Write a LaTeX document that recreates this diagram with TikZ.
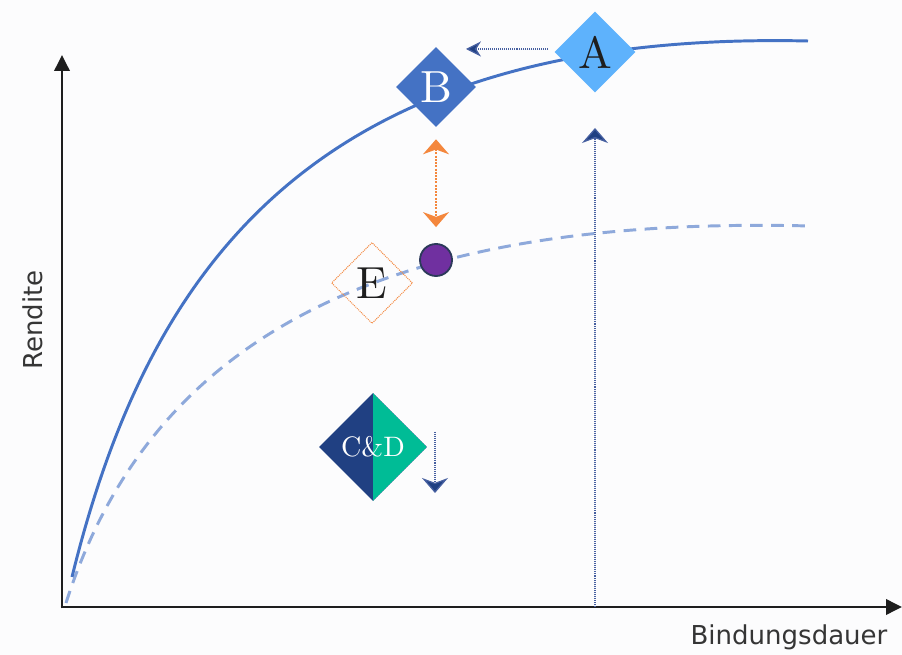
\documentclass[tikz,border=0pt]{standalone}
\usepackage{fontspec}
\newfontfamily\axisfont{DejaVu Sans}
\newfontfamily\gemfont{lmroman10-regular.otf}
\usepackage{xcolor}
\definecolor{rdpaper}{RGB}{252,252,253}
\definecolor{rdaxis}{RGB}{30,30,30}
\definecolor{rdblue}{RGB}{68,114,196}
\definecolor{rdlight}{RGB}{142,169,219}
\definecolor{rdsky}{RGB}{94,178,252}
\definecolor{rdnavy}{RGB}{32,64,130}
\definecolor{rddots}{RGB}{70,95,160}
\definecolor{rdteal}{RGB}{0,188,150}
\definecolor{rdorange}{RGB}{244,135,61}
\definecolor{rdpurple}{RGB}{112,48,160}
\definecolor{rdrim}{RGB}{44,58,90}
\usetikzlibrary{arrows.meta,positioning,shapes.geometric,calc}

\begin{document}
\begin{tikzpicture}[
    x=0.025cm, y=-0.025cm,
    axisline/.style={draw=rdaxis, line width=2.1pt,
                     -{Triangle[length=0.4cm, width=0.38cm]}},
    axislabel/.style={font=\axisfont\fontsize{18.5}{18.5}\selectfont, text=rdaxis!90},
    gem/.style={diamond, aspect=1, inner sep=0pt,
                font=\gemfont\fontsize{32}{32}\selectfont},
    tipnavy/.style={-{Stealth[length=0.375cm, width=0.65cm, inset=0.12cm, fill=rdnavy]}},
    moveline/.style={draw=rddots, line width=0.9pt,
                     dash pattern=on 0.7pt off 0.7pt, tipnavy},
    shiftline/.style={draw=rdorange, line width=0.9pt,
                      dash pattern=on 1.4pt off 0.9pt,
                      {Stealth[length=0.375cm, width=0.65cm, inset=0.12cm]}-{Stealth[length=0.375cm, width=0.65cm, inset=0.12cm]}}
  ]
    % Canvas
    \fill[rdpaper] (0,0) rectangle (902,655);
    \useasboundingbox (0,0) rectangle (902,655);

    % Axes
    \coordinate (O)    at (62,607);
    \coordinate (ytop) at (62,55);
    \coordinate (xend) at (902,607);
    \draw[axisline] ([yshift=-1pt]O) -- (ytop);
    \draw[axisline] ([xshift=-1pt]O) -- (xend);
    \node[axislabel, rotate=90] (rendite) at (33,320) {Rendite};
    \node[axislabel] (dauer) at (789,637) {Bindungsdauer};

    % Yield curves
    \draw[rdlight, line width=2.1pt, dash pattern=on 9pt off 6pt]
      (66,603) .. controls (150,340) and (380,215) .. (810,226);
    \draw[rdblue, line width=2.1pt]
      (72,577) .. controls (150,260) and (320,30) .. (808,41);

    % Positions
    \node[gem, fill=rdsky, minimum size=2.025cm, text=rdaxis] (A) at (595,52) {A};
    \node[gem, fill=rdblue, minimum size=2cm, text=white] (B) at (436,87) {B};
    \node[gem, draw=rdorange, line width=0.7pt, dash pattern=on 0.7pt off 0.7pt,
          minimum size=2.025cm, text=rdaxis] (E) at (372,283) {E};
    \node[circle, fill=rdpurple, draw=rdrim, line width=1.3pt,
          minimum size=0.8cm, inner sep=0pt] (dot) at (436,260) {};
    \node[gem, fill=rdnavy, minimum size=2.7cm, text=white,
          font=\gemfont\fontsize{20}{20}\selectfont,
          path picture={\fill[rdteal] (path picture bounding box.north)
            -- (path picture bounding box.east)
            -- (path picture bounding box.south) -- cycle;}]
      (CD) at (373,447) {C\&D};

    % Moves
    \coordinate (aFrom)  at (548,49);
    \coordinate (aTo)    at (466,49);
    \coordinate (upFrom) at (595,607);
    \coordinate (upTo)   at (595,128);
    \coordinate (cdFrom) at (435,432);
    \coordinate (cdTo)   at (435,493);
    \draw[moveline, -{Stealth[length=0.375cm, width=0.38cm, inset=0.12cm, fill=rdnavy]}]
      (aFrom) -- (aTo);
    \draw[moveline] (upFrom) -- (upTo);
    \draw[moveline] (cdFrom) -- (cdTo);
    \draw[shiftline] ([yshift=-0.3cm]B.south) -- ([yshift=0.4cm]dot.north);
  \end{tikzpicture}
\end{document}
